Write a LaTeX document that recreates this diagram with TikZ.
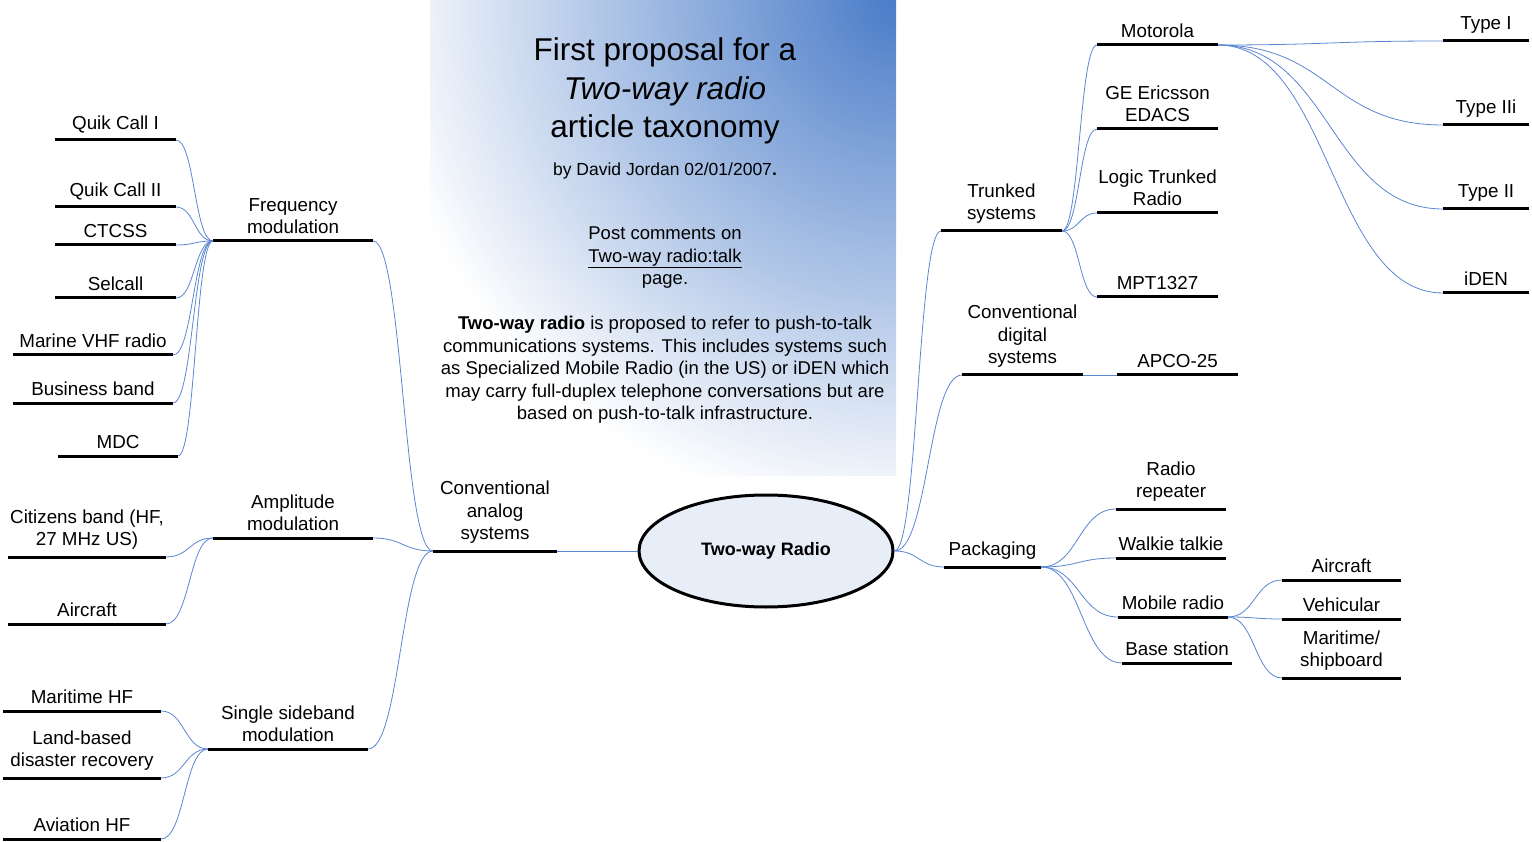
\documentclass[tikz,border=0pt]{standalone}
\usepackage{fontspec}
\setmainfont{Liberation Sans}
\usetikzlibrary{shapes.geometric,calc}
\begin{document}
\begin{tikzpicture}[x=1pt,y=-1pt,
  bar/.style={line width=3pt,black},
  lbl/.style={anchor=south,align=center,font=\fontsize{18.8}{22.5}\selectfont,inner sep=1pt}]
\useasboundingbox (0,0) rectangle (1532,842);
\definecolor{bg}{HTML}{4A7CC8}
\definecolor{cl}{HTML}{5A86D2}
\definecolor{ef}{HTML}{E8EEF8}
\tikzset{conn/.style={draw=cl,line width=0.8pt},
  cv/.style={to path={let \p1=(\tikztostart),\p2=(\tikztotarget),\n1={(\x2-\x1)/2} in .. controls ($(\p1)+(\n1,0pt)$) and ($(\p2)-(\n1,0pt)$) .. (\tikztotarget)}}}
\begin{scope}
\clip (430,0) rectangle (896,475);
\shade[inner color=bg,outer color=white] (896,0) circle (520);
\end{scope}
\newcommand\mbr[5]{%
  \coordinate (#1-l) at (#2,#4); \coordinate (#1-r) at (#3,#4);
  \draw[bar] (#1-l) -- (#1-r);
  \node[lbl] (#1-t) at ({(#2+#3)/2},#4-6) {#5};}
% left
\mbr{qc1}{55}{176}{140}{Quik Call I}
\mbr{qc2}{55}{176}{207}{Quik Call II}
\mbr{ctc}{55}{176}{245}{CTCSS}
\mbr{sel}{55}{176}{298}{Selcall}
\mbr{mar}{13}{173}{355}{Marine VHF radio}
\mbr{bus}{13}{173}{403}{Business band}
\mbr{mdc}{58}{178}{456}{MDC}
\mbr{fm}{213}{373}{241}{Frequency\\modulation}
\mbr{cb}{8}{166}{557}{Citizens band (HF,\\27 MHz US)}
\mbr{air}{8}{166}{624}{Aircraft}
\mbr{am}{213}{373}{538}{Amplitude\\modulation}
\mbr{mhf}{3}{161}{711}{Maritime HF}
\mbr{land}{3}{161}{778}{Land-based\\disaster recovery}
\mbr{ahf}{3}{161}{839}{Aviation HF}
\mbr{ssb}{208}{368}{749}{Single sideband\\modulation}
\mbr{cas}{433}{557}{551}{Conventional\\analog\\systems}
% right
\mbr{trk}{941}{1062}{231}{Trunked\\systems}
\mbr{cds}{962}{1083}{375}{Conventional\\digital\\systems}
\mbr{pkg}{944}{1041}{567}{Packaging}
\mbr{mot}{1097}{1218}{45}{Motorola}
\mbr{ge}{1097}{1218}{129}{GE Ericsson\\EDACS}
\mbr{ltr}{1097}{1218}{213}{Logic Trunked\\Radio}
\mbr{mpt}{1097}{1218}{297}{MPT1327}
\mbr{t1}{1443}{1529}{41}{Type I}
\mbr{t3}{1443}{1529}{125}{Type IIi}
\mbr{t2}{1443}{1529}{209}{Type II}
\mbr{iden}{1443}{1529}{293}{iDEN}
\mbr{apco}{1117}{1238}{375}{APCO-25}
\mbr{rr}{1116}{1226}{509}{Radio\\repeater}
\mbr{wt}{1116}{1226}{558}{Walkie talkie}
\mbr{mob}{1118}{1228}{617}{Mobile radio}
\mbr{base}{1122}{1232}{663}{Base station}
\mbr{mair}{1282}{1401}{580}{Aircraft}
\mbr{veh}{1282}{1401}{619}{Vehicular}
\mbr{mship}{1282}{1401}{678}{Maritime/\\shipboard}
\node[draw,line width=3pt,fill=ef,ellipse,minimum width=254pt,minimum height=112pt,font=\fontsize{18}{22}\selectfont\bfseries] (root) at (766,551) {Two-way Radio};
% connectors
\foreach \c in {qc1,qc2,ctc,sel,mar,bus,mdc} \draw[conn] (\c-r) to[cv] (fm-l);
\foreach \c in {cb,air} \draw[conn] (\c-r) to[cv] (am-l);
\foreach \c in {mhf,land,ahf} \draw[conn] (\c-r) to[cv] (ssb-l);
\foreach \c in {fm,am,ssb} \draw[conn] (\c-r) to[cv] (cas-l);
\draw[conn] (cas-r) -- (root.west);
\foreach \c in {trk,cds,pkg} \draw[conn] (root.east) to[cv] (\c-l);
\foreach \c in {mot,ge,ltr,mpt} \draw[conn] (trk-r) to[cv] (\c-l);
\foreach \c in {t1,t3,t2,iden} \draw[conn] (mot-r) to[cv] (\c-l);
\draw[conn] (cds-r) to[cv] (apco-l);
\foreach \c in {rr,wt,mob,base} \draw[conn] (pkg-r) to[cv] (\c-l);
\foreach \c in {mair,veh,mship} \draw[conn] (mob-r) to[cv] (\c-l);
% title text
\node[align=center,font=\fontsize{31.5}{38.5}\selectfont] (title) at (665,91) {First proposal for a\\\textit{Two-way radio}\\article taxonomy};
\node[font=\fontsize{17.5}{20}\selectfont] (by) at (665,171) {by David Jordan 02/01/2007\textbf{.}};
\node[align=center,font=\fontsize{18.5}{22.5}\selectfont] (post) at (665,258) {Post comments on\\\underline{Two-way radio:talk}\\page.};
\node[align=center,font=\fontsize{18.5}{22.5}\selectfont] (para) at (665,370) {\textbf{Two-way radio} is proposed to refer to push-to-talk\\communications systems. This includes systems such\\as Specialized Mobile Radio (in the US) or iDEN which\\may carry full-duplex telephone conversations but are\\based on push-to-talk infrastructure.};
\end{tikzpicture}
\end{document}
